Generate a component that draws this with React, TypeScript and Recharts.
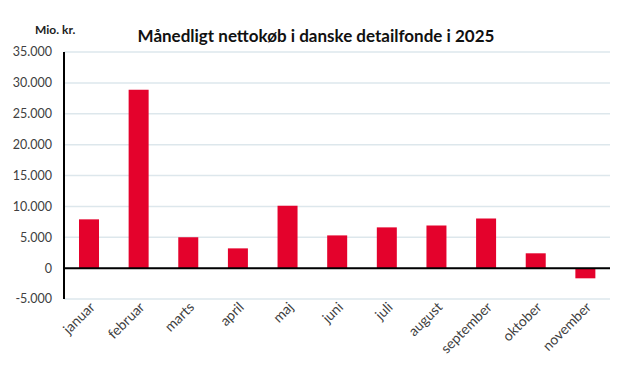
import React from "react";
import { Bar, BarChart, CartesianGrid, ReferenceLine, XAxis, YAxis } from "recharts";

const months = ["januar", "februar", "marts", "april", "maj", "juni", "juli", "august", "september", "oktober", "november"];
const netPurchases = [7900, 28900, 5000, 3200, 10100, 5300, 6600, 6900, 8050, 2400, -1650];
const yTicks = [-5000, 0, 5000, 10000, 15000, 20000, 25000, 30000, 35000];

const data = months.map((month, i) => ({ month, value: netPurchases[i] }));

const formatDk = (v: number) => {
  const s = Math.abs(v).toString().replace(/\B(?=(\d{3})+(?!\d))/g, ".");
  return v < 0 ? "-" + s : s;
};

const font = "Lato, 'DejaVu Sans', sans-serif";

const App: React.FC = () => {
  return (
    <div style={{ position: "absolute", left: 0, top: 0, width: 625, height: 377, background: "#fff", fontFamily: font }}>
      <div style={{ position: "absolute", left: 35, top: 22, fontSize: 12, fontWeight: 700, color: "#222" }}>Mio. kr.</div>
      <div style={{ position: "absolute", left: 0, width: 632, top: 25, textAlign: "center", fontSize: 17, fontWeight: 700, color: "#111" }}>
        Månedligt nettokøb i danske detailfonde i 2025
      </div>
      <BarChart
        width={625}
        height={377}
        data={data}
        barSize={20}
        margin={{ top: 52, right: 15, bottom: 0, left: 0 }}
      >
        <CartesianGrid vertical={false} stroke="#dde7ec" strokeWidth={1.5} />
        <XAxis
          dataKey="month"
          axisLine={false}
          tickLine={false}
          angle={-45}
          textAnchor="end"
          interval={0}
          height={78}
          tickMargin={-4}
          tick={{ fill: "#404040", fontSize: 14, fontFamily: font }}
        />
        <YAxis
          width={64}
          domain={[-5000, 35000]}
          ticks={yTicks}
          tickFormatter={formatDk}
          axisLine={{ stroke: "#000", strokeWidth: 2 }}
          tickLine={false}
          tickMargin={6}
          tick={{ fill: "#404040", fontSize: 12.5, fontFamily: font }}
        />
        <ReferenceLine y={0} stroke="#000" strokeWidth={2} />
        <Bar dataKey="value" fill="#e4022c" isAnimationActive={false} />
      </BarChart>
    </div>
  );
};

export default App;
